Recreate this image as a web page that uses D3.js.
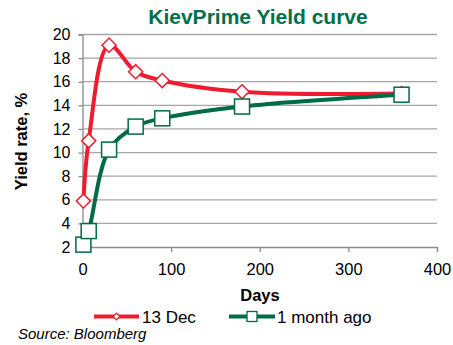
<!DOCTYPE html>
<html>
<head>
<meta charset="utf-8">
<script src="https://cdn.jsdelivr.net/npm/d3@7"></script>
<style>
  html, body { margin: 0; padding: 0; background: #fff; }
  svg { display: block; font-family: "Liberation Sans", Arial, sans-serif; }
</style>
</head>
<body>
<svg id="chart" width="453" height="345"></svg>
<script>
// Maturities in days and yields (%)
const days = [1, 7, 30, 60, 90, 180, 360];
const yieldDec13 = [5.9, 11.0, 19.1, 16.85, 16.1, 15.15, 15.0];
const yieldMonthAgo = [2.2, 3.35, 10.25, 12.2, 12.9, 13.9, 14.9];
const seriesNames = ["13 Dec", "1 month ago"];
const xTicks = [0, 100, 200, 300, 400];
const yTicks = [2, 4, 6, 8, 10, 12, 14, 16, 18, 20];

const RED = "#ee1c2e";
const GREEN = "#006b45";

const svg = d3.select("#chart");

const x = d3.scaleLinear().domain([0, 400]).range([82.5, 437]);
const y = d3.scaleLinear().domain([2, 20]).range([247, 34.5]);

// Title
svg.append("text")
  .attr("x", 258).attr("y", 24)
  .attr("text-anchor", "middle")
  .attr("font-size", 21).attr("font-weight", "bold")
  .attr("fill", "#00704a")
  .text("KievPrime Yield curve");

// Horizontal gridlines
svg.append("g")
  .selectAll("line")
  .data(yTicks.filter(d => d !== 2))
  .join("line")
  .attr("x1", x(0)).attr("x2", x(400))
  .attr("y1", d => y(d)).attr("y2", d => y(d))
  .attr("stroke", "#a6a6a6").attr("stroke-width", 1.3);

// Y axis
const yAxis = svg.append("g")
  .attr("transform", `translate(${x(0)},0)`)
  .call(d3.axisLeft(y).tickValues(yTicks).tickSize(4).tickPadding(8).tickFormat(d3.format("d")));
yAxis.select(".domain").attr("stroke", "#8c8c8c").attr("stroke-width", 1.3);
yAxis.selectAll(".tick line").attr("stroke", "#8c8c8c").attr("stroke-width", 1.3);
yAxis.selectAll("text").attr("font-size", 16).attr("fill", "#000")
  .attr("font-family", "Liberation Sans, Arial, sans-serif");

// X axis
const xAxis = svg.append("g")
  .attr("transform", `translate(0,${y(2)})`)
  .call(d3.axisBottom(x).tickValues(xTicks).tickSize(5).tickPadding(11).tickFormat(d3.format("d")));
xAxis.select(".domain").attr("stroke", "#8c8c8c").attr("stroke-width", 1.3);
xAxis.selectAll(".tick line").attr("stroke", "#8c8c8c").attr("stroke-width", 1.3);
xAxis.selectAll("text").attr("font-size", 16.5).attr("fill", "#000")
  .attr("font-family", "Liberation Sans, Arial, sans-serif");

// Axis titles
svg.append("text")
  .attr("x", 260).attr("y", 301)
  .attr("text-anchor", "middle")
  .attr("font-size", 16.5).attr("font-weight", "bold")
  .text("Days");

svg.append("text")
  .attr("transform", "translate(26.5,141.5) rotate(-90)")
  .attr("text-anchor", "middle")
  .attr("font-size", 16.5).attr("font-weight", "bold")
  .text("Yield rate, %");

// Series lines
const line = d3.line()
  .x(d => x(d[0]))
  .y(d => y(d[1]))
  .curve(d3.curveCatmullRom.alpha(0.5));

const redPts = days.map((d, i) => [d, yieldDec13[i]]);
const greenPts = days.map((d, i) => [d, yieldMonthAgo[i]]);

svg.append("path").datum(redPts)
  .attr("d", line).attr("fill", "none")
  .attr("stroke", RED).attr("stroke-width", 4).attr("stroke-linejoin", "round");

const diamond = d3.symbol().type(d3.symbolDiamond2).size(110);
svg.append("g").selectAll("path")
  .data(redPts)
  .join("path")
  .attr("transform", d => `translate(${x(d[0])},${y(d[1])}) rotate(45)`)
  .attr("d", d3.symbol().type(d3.symbolSquare).size(100))
  .attr("fill", "#fff").attr("stroke", RED).attr("stroke-width", 1.5);

svg.append("path").datum(greenPts)
  .attr("d", line).attr("fill", "none")
  .attr("stroke", GREEN).attr("stroke-width", 4).attr("stroke-linejoin", "round");

svg.append("g").selectAll("rect")
  .data(greenPts)
  .join("rect")
  .attr("x", d => x(d[0]) - 7.5).attr("y", d => y(d[1]) - 7.5)
  .attr("width", 15).attr("height", 15)
  .attr("fill", "#fff").attr("stroke", GREEN).attr("stroke-width", 1.5);

// Legend
const legend = svg.append("g");
legend.append("line").attr("x1", 94).attr("x2", 139).attr("y1", 316.5).attr("y2", 316.5)
  .attr("stroke", RED).attr("stroke-width", 4);
legend.append("path")
  .attr("transform", "translate(116.5,316.5) rotate(45)")
  .attr("d", d3.symbol().type(d3.symbolSquare).size(22))
  .attr("fill", "#fff").attr("stroke", RED).attr("stroke-width", 1.3);
legend.append("text").attr("x", 142).attr("y", 322.5)
  .attr("font-size", 17).text(seriesNames[0]);

legend.append("line").attr("x1", 229).attr("x2", 275).attr("y1", 316.5).attr("y2", 316.5)
  .attr("stroke", GREEN).attr("stroke-width", 4);
legend.append("rect").attr("x", 247).attr("y", 311.5).attr("width", 10).attr("height", 10)
  .attr("fill", "#fff").attr("stroke", GREEN).attr("stroke-width", 1.3);
legend.append("text").attr("x", 277).attr("y", 322.5)
  .attr("font-size", 17).text(seriesNames[1]);

// Source note
svg.append("text")
  .attr("x", 18).attr("y", 339)
  .attr("font-size", 15).attr("font-style", "italic")
  .text("Source: Bloomberg");
</script>
</body>
</html>
